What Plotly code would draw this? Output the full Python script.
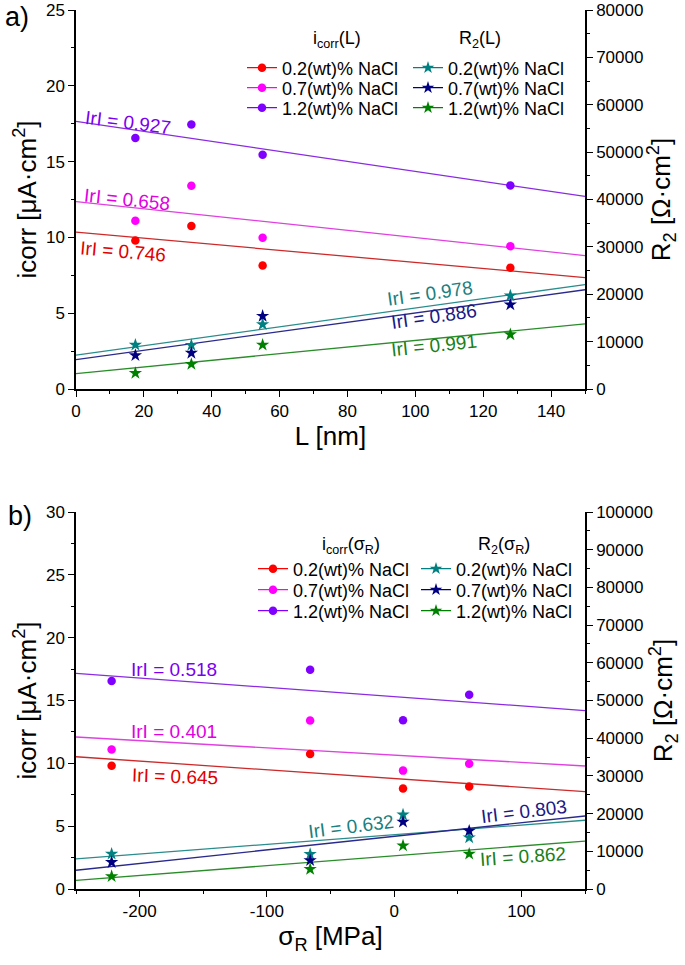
import numpy as np
import plotly.graph_objects as go

# ---------------- data ----------------
L_nm = [17.5, 34, 55, 128]
sigma_R = [-222, -66, 59, 7]
icorr_02 = [9.8, 10.75, 8.15, 8.0]
icorr_07 = [11.1, 13.4, 9.97, 9.42]
icorr_12 = [16.55, 17.45, 15.45, 13.42]
R2_02 = [9300, 9250, 13650, 19700]
R2_07 = [7100, 7600, 15400, 17800]
R2_12 = [3350, 5250, 9300, 11500]

series_names = ["0.2(wt)% NaCl", "0.7(wt)% NaCl", "1.2(wt)% NaCl"]
r_a_icorr = ["0.746", "0.658", "0.927"]
r_a_R2 = ["0.978", "0.886", "0.991"]
r_b_icorr = ["0.645", "0.401", "0.518"]
r_b_R2 = ["0.632", "0.803", "0.862"]

L_range = [0, 150]
sig_range = [-250, 150]
sig_tickvals = [-200, -100, 0, 100]
sig_ticktext = ["-200", "-100", "0", "100"]

# ---------------- styles ----------------
FONT = "Liberation Sans, Arial, sans-serif"
circ_cols = ["#ff0000", "#ff00ff", "#8000ff"]
circ_line = ["#cc2a2a", "#e040e0", "#8a2be2"]
circ_text = ["#e00000", "#e000e0", "#7a00f0"]
star_cols = ["#008080", "#000080", "#008000"]
star_line = ["#2a8c8c", "#2a2a8c", "#2a8c2a"]
star_text = ["#1a8080", "#1a1a85", "#1a801a"]

# body margin is removed in the page (post_script), so figure sits at (0, 0)
PL, PR, PT, PB = 76, 585, 10, 889      # plot area in page pixels
W, H = 685, 965
ML, MT = PL, PT
MR, MB = W - PR, H - PB
PW, PH = PR - PL, PB - PT


def px2paper(px, py):
    return (px - PL) / PW, (PB - py) / PH


fig = go.Figure()

icorr_sets = [icorr_02, icorr_07, icorr_12]
R2_sets = [R2_02, R2_07, R2_12]

leg_rows = {"a": [68, 88, 108], "b": [569, 590, 611]}
leg_cols = {"a": (262, 428), "b": (273, 436)}
legend_layout = {}
leg_counter = [0]


def new_legend(mx, my):
    leg_counter[0] += 1
    name = "legend" if leg_counter[0] == 1 else "legend%d" % leg_counter[0]
    x, y = px2paper(mx - 20, my)
    legend_layout[name] = dict(x=x, y=y, xanchor="left", yanchor="middle",
                               bgcolor="rgba(0,0,0,0)", itemclick=False,
                               font=dict(family=FONT, size=18, color="black"))
    return name


def add_panel(key, xdata, xr, xa, ya_l, ya_r):
    for k in range(3):
        p = np.polyfit(xdata, icorr_sets[k], 1)
        fig.add_trace(go.Scatter(x=xr, y=list(np.polyval(p, xr)), mode="lines",
                                 line=dict(color=circ_line[k], width=1.3),
                                 xaxis=xa, yaxis=ya_l, showlegend=False, hoverinfo="skip"))
        p2 = np.polyfit(xdata, R2_sets[k], 1)
        fig.add_trace(go.Scatter(x=xr, y=list(np.polyval(p2, xr)), mode="lines",
                                 line=dict(color=star_line[k], width=1.3),
                                 xaxis=xa, yaxis=ya_r, showlegend=False, hoverinfo="skip"))
    for k in range(3):
        fig.add_trace(go.Scatter(x=xdata, y=icorr_sets[k], mode="markers",
                                 marker=dict(symbol="circle", size=8.5, color=circ_cols[k]),
                                 xaxis=xa, yaxis=ya_l, showlegend=False))
        fig.add_trace(go.Scatter(x=xdata, y=R2_sets[k], mode="markers",
                                 marker=dict(symbol="star", size=10, color=star_cols[k],
                                             line=dict(width=0)),
                                 xaxis=xa, yaxis=ya_r, showlegend=False))
    c1, c2 = leg_cols[key]
    for k in range(3):
        lg = new_legend(c1, leg_rows[key][k])
        fig.add_trace(go.Scatter(x=[None], y=[None], mode="lines+markers", name=series_names[k],
                                 marker=dict(symbol="circle", size=8.5, color=circ_cols[k]),
                                 line=dict(color=circ_cols[k], width=1.2),
                                 xaxis=xa, yaxis=ya_l, legend=lg))
    for k in range(3):
        lg = new_legend(c2, leg_rows[key][k])
        fig.add_trace(go.Scatter(x=[None], y=[None], mode="lines+markers", name=series_names[k],
                                 marker=dict(symbol="star", size=9.5, color=star_cols[k]),
                                 line=dict(color=star_cols[k], width=1.2),
                                 xaxis=xa, yaxis=ya_r, legend=lg))


add_panel("a", L_nm, L_range, "x", "y", "y2")
add_panel("b", sigma_R, sig_range, "x2", "y3", "y4")

TICKF = dict(family=FONT, size=17, color="black")
TITLEF = dict(family=FONT, size=26, color="black")
axis_common = dict(showline=True, linecolor="black", linewidth=1.5, showgrid=False,
                   zeroline=False, ticks="outside", ticklen=6, tickwidth=1.3, tickcolor="black",
                   tickfont=TICKF)


def minor(d, inside=False):
    return dict(dtick=d, ticklen=3, tickwidth=1.2, tickcolor="black",
                ticks="inside" if inside else "outside")


DOM_A = [px2paper(0, 389)[1], 1.0]
DOM_B = [0.0, px2paper(0, 512)[1]]

fig.update_layout(
    width=W, height=H,
    margin=dict(l=ML, r=MR, t=MT, b=MB, autoexpand=False),
    paper_bgcolor="white", plot_bgcolor="white",
    font=dict(family=FONT, color="black"),
    xaxis=dict(**axis_common, domain=[0, 1], anchor="y", range=L_range, dtick=20,
               minor=minor(10), title=dict(text="L [nm]", font=TITLEF, standoff=6)),
    xaxis3=dict(showline=True, linecolor="black", linewidth=1.5, overlaying="x", matches="x",
                side="top", anchor="y", range=L_range, dtick=20, ticks="inside", ticklen=6,
                tickwidth=1.3, tickcolor="black", showticklabels=False, showgrid=False,
                zeroline=False, minor=minor(10, True)),
    yaxis=dict(**axis_common, domain=DOM_A, anchor="x", range=[0, 25], dtick=5,
               minor=minor(2.5),
               title=dict(text="icorr [μA·cm<sup>2</sup>]", font=TITLEF, standoff=2)),
    yaxis2=dict(**axis_common, overlaying="y", side="right", anchor="x", range=[0, 80000],
                dtick=10000, tickformat="d", minor=minor(5000),
                title=dict(text="R<sub>2</sub> [Ω·cm<sup>2</sup>]", font=TITLEF, standoff=2)),
    xaxis2=dict(**axis_common, domain=[0, 1], anchor="y3", range=sig_range,
                tickmode="array", tickvals=sig_tickvals, ticktext=sig_ticktext,
                minor=dict(tickmode="linear", tick0=0, dtick=50, ticklen=3, tickwidth=1.2,
                           tickcolor="black", ticks="outside"),
                title=dict(text="σ<sub>R</sub> [MPa]", font=TITLEF, standoff=6)),
    xaxis4=dict(showline=True, linecolor="black", linewidth=1.5, overlaying="x2", matches="x2",
                side="top", anchor="y3", range=sig_range, tickmode="array",
                tickvals=sig_tickvals, ticks="inside", ticklen=6, tickwidth=1.3,
                tickcolor="black", showticklabels=False, showgrid=False, zeroline=False,
                minor=dict(tickmode="linear", tick0=0, dtick=50, ticklen=3, tickwidth=1.2,
                           tickcolor="black", ticks="inside")),
    yaxis3=dict(**axis_common, domain=DOM_B, anchor="x2", range=[0, 30], dtick=5,
                minor=minor(2.5),
                title=dict(text="icorr [μA·cm<sup>2</sup>]", font=TITLEF, standoff=2)),
    yaxis4=dict(**axis_common, overlaying="y3", side="right", anchor="x2", range=[0, 100000],
                dtick=10000, tickformat="d", minor=minor(5000),
                title=dict(text="R<sub>2</sub> [Ω·cm<sup>2</sup>]", font=TITLEF, standoff=2)),
)
fig.update_layout(**legend_layout)

leg_titles = [("i<sub>corr</sub>(L)", 337, 40), ("R<sub>2</sub>(L)", 480, 40),
              ("i<sub>corr</sub>(σ<sub>R</sub>)", 351, 545),
              ("R<sub>2</sub>(σ<sub>R</sub>)", 504, 545)]
for txt, px, py in leg_titles:
    x, y = px2paper(px, py)
    fig.add_annotation(x=x, y=y, xref="paper", yref="paper", text=txt, showarrow=False,
                       xanchor="center", yanchor="middle",
                       font=dict(family=FONT, size=18, color="black"))

ann_a_i = [(13.9, 9.04, 5), (15.1, 12.47, 6), (15.4, 17.61, 7)]
ann_a_r = [(104.2, 6.27, -8), (105.4, 4.75, -8), (105.4, 2.90, -6)]
ann_b_i = [(-172, 8.99, 2), (-173, 12.57, 0), (-173, 17.5, 0)]
ann_b_r = [(-34, 5.01, -7), (102, 6.13, -7), (101, 2.55, -4)]


def add_ann(lst, labels, cols, xr, yr):
    for (x, y, a), lab, c in zip(lst, labels, cols):
        fig.add_annotation(x=x, y=y, xref=xr, yref=yr, text="IrI = " + lab, showarrow=False,
                           textangle=a, font=dict(family=FONT, size=19, color=c))


add_ann(ann_a_i, r_a_icorr, circ_text, "x", "y")
add_ann(ann_a_r, r_a_R2, star_text, "x", "y")
add_ann(ann_b_i, r_b_icorr, circ_text, "x2", "y3")
add_ann(ann_b_r, r_b_R2, star_text, "x2", "y3")

for txt, px, py in [("a)", 3, 17), ("b)", 6, 516)]:
    x, y = px2paper(px, py)
    fig.add_annotation(x=x, y=y, xref="paper", yref="paper", text=txt, showarrow=False,
                       xanchor="left", yanchor="middle",
                       font=dict(family=FONT, size=27, color="black"))

fig.write_html("out.html", config={"displayModeBar": False},
               post_script="document.body.style.margin='0';document.body.style.overflow='hidden';")
